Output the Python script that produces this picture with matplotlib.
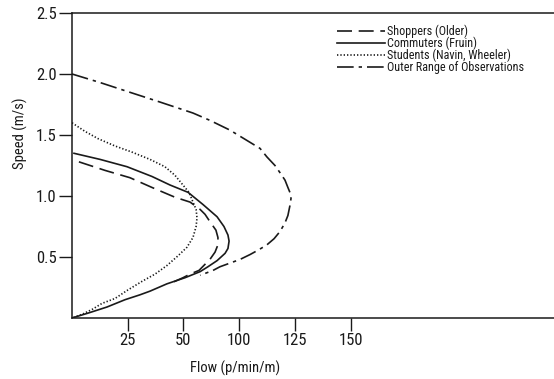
import matplotlib
matplotlib.use("Agg")
import matplotlib.pyplot as plt

plt.rcParams['font.family'] = ['Roboto Condensed', 'Liberation Sans', 'DejaVu Sans']

# flujo (p/min/m) y velocidad (m/s) de cada curva
outer_flow = [0, 12.6, 26.0, 39.5, 54.3, 61.9, 70.9, 79.9, 84.4, 87.5,
              91.1, 93.4, 95.6, 96.9, 97.8, 98.3, 97.8, 96.9, 95.6, 93.4,
              90.7, 87.5, 83.9, 79.9, 75.4, 70.9, 66.4, 63.3, 57.5]
outer_speed = [2.00, 1.93, 1.85, 1.77, 1.68, 1.62, 1.54, 1.44, 1.39, 1.32,
               1.25, 1.19, 1.13, 1.07, 1.03, 0.98, 0.92, 0.84, 0.78, 0.71,
               0.65, 0.60, 0.56, 0.52, 0.48, 0.45, 0.42, 0.39, 0.35]

students_flow = [0, 5.8, 11.7, 19.3, 26.9, 35.0, 41.7, 46.2, 49.8, 52.5,
                 54.3, 55.7, 56.1, 55.7, 54.3, 51.6, 47.6, 42.6, 37.3, 31.4,
                 25.1, 19.3, 13.5, 9.0, 4.5, 0]
students_speed = [1.60, 1.53, 1.47, 1.41, 1.36, 1.30, 1.24, 1.17, 1.09, 1.03,
                  0.95, 0.89, 0.82, 0.75, 0.66, 0.58, 0.51, 0.43, 0.36, 0.30,
                  0.23, 0.16, 0.12, 0.07, 0.03, 0]

commuters_flow = [0.9, 12.6, 24.7, 35.9, 44.0, 52.1, 58.8, 65.1, 68.2, 70.0,
                  70.5, 70.0, 68.7, 65.1, 61.0, 57.5, 50.7, 42.6, 35.0, 30.5,
                  23.8, 15.7, 7.2, 0]
commuters_speed = [1.35, 1.30, 1.24, 1.16, 1.09, 1.03, 0.93, 0.83, 0.75, 0.68,
                   0.63, 0.57, 0.53, 0.47, 0.42, 0.38, 0.33, 0.28, 0.22, 0.19,
                   0.15, 0.09, 0.04, 0]

shoppers_flow = [3.1, 14.8, 26.0, 35.9, 46.2, 53.0, 57.5, 59.7, 61.9, 64.6,
                 65.5, 65.5, 64.2, 61.9, 59.7, 57.0, 53.0, 49.8, 44.9]
shoppers_speed = [1.28, 1.21, 1.15, 1.07, 0.99, 0.95, 0.89, 0.85, 0.79, 0.72,
                  0.66, 0.60, 0.54, 0.48, 0.44, 0.39, 0.36, 0.33, 0.29]

x_ticks = [25, 50, 75, 100, 125]
x_tick_labels = ['25', '50', '100', '125', '150']
y_ticks = [0.5, 1.0, 1.5, 2.0, 2.5]

ink = '#1a1a1a'

fig = plt.figure(figsize=(5.54, 3.79), dpi=100)
ax = fig.add_axes([72 / 554, 61 / 379, (560 - 72) / 554, 305 / 379])

ax.plot(shoppers_flow, shoppers_speed, color=ink, lw=1.2, dashes=(9, 4),
        label='Shoppers (Older)')
ax.plot(commuters_flow, commuters_speed, color=ink, lw=1.2,
        label='Commuters (Fruin)')
ax.plot(students_flow, students_speed, color=ink, lw=1.2, dashes=(0.8, 1.2),
        label='Students (Navin, Wheeler)')
ax.plot(outer_flow, outer_speed, color=ink, lw=1.2, dashes=(10, 3, 2, 3),
        label='Outer Range of Observations')

ax.set_xlim(0, (560 - 72) / 2.228)
ax.set_ylim(0, 2.5)
ax.set_xticks(x_ticks)
ax.set_xticklabels(x_tick_labels)
ax.set_yticks(y_ticks)
ax.set_yticklabels([f'{v:.1f}' for v in y_ticks])
ax.tick_params(direction='out', length=9.5, width=1, colors=ink,
               labelsize=12, pad=1.5)

for side in ['left', 'bottom', 'top']:
    ax.spines[side].set_color(ink)
    ax.spines[side].set_linewidth(1.1)
ax.spines['right'].set_visible(False)

ax.set_xlabel('Flow (p/min/m)', fontsize=10.5, color=ink, va='center')
ax.set_ylabel('Speed (m/s)', fontsize=10.5, color=ink, va='center')
ax.xaxis.set_label_coords((235 - 72) / 488, -0.164)
ax.yaxis.set_label_coords((20 - 72) / 488, 0.607)

leg = ax.legend(loc='upper left', bbox_to_anchor=((332 - 72) / 488, 0.978),
                frameon=False, fontsize=8.7, handlelength=4.0,
                handletextpad=0.15, labelspacing=-0.1, borderaxespad=0)
for t in leg.get_texts():
    t.set_color(ink)

fig.savefig('out.png', dpi=100)
